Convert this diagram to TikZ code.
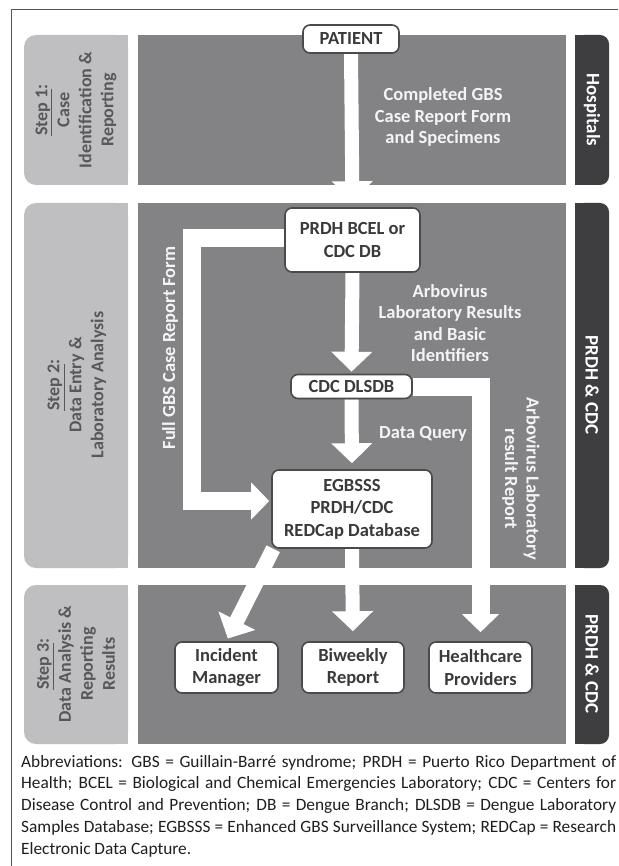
\documentclass[tikz,border=0pt]{standalone}
\usepackage{fontspec}
\setmainfont{Carlito}
\usetikzlibrary{arrows.meta}
\pgfdeclarelayer{bg}
\pgfdeclarelayer{arrowlayer}
\pgfsetlayers{bg,arrowlayer,main}

\definecolor{lightbg}{HTML}{BFBFC2}
\definecolor{midbg}{HTML}{838386}
\definecolor{darkbg}{HTML}{3E3E41}
\definecolor{steptext}{HTML}{58585B}
\definecolor{boxtext}{HTML}{3A3A3A}
\definecolor{boxline}{HTML}{4A4A4A}
\definecolor{softwhite}{HTML}{F4F4F4}
\definecolor{framecol}{HTML}{555555}

\tikzset{
  flowbox/.style={draw=boxline, line width=1.6pt, fill=white, rounded corners=7pt,
    text=boxtext, font=\fontsize{18.5}{22.5}\selectfont\bfseries, align=center, inner sep=0pt},
  fatarrow/.style={draw=white, line width=14pt, -{Triangle[width=40pt,length=20pt]}, shorten >=6pt},
  bentarrow/.style={draw=white, line width=18pt, line join=miter, -{Triangle[width=36pt,length=18pt]}},
  flowlabel/.style={text=softwhite, font=\fontsize{18.5}{21.5}\selectfont\bfseries, align=center, inner sep=0pt},
  steplabel/.style={text=steptext, rotate=90, align=center, font=\fontsize{18}{22}\selectfont\bfseries, inner sep=0pt},
  sidelabel/.style={text=white, rotate=-90, font=\fontsize{19}{22}\selectfont\bfseries, inner sep=0pt},
}

\begin{document}
\begin{tikzpicture}[x=1pt,y=-1pt]
\useasboundingbox (0,0) rectangle (618,866);

\begin{pgfonlayer}{bg}
  \fill[white] (0,0) rectangle (618,866);
  \draw[framecol, line width=0.9pt] (11,866) -- (11,9) -- (618,9);
  \foreach \ya/\yb in {35/185, 203/568, 585/744}{
    \fill[lightbg, rounded corners=12pt] (24,\ya) rectangle (128,\yb);
    \fill[lightbg] (80,\ya) rectangle (128,\yb);
    \fill[midbg] (138,\ya) rectangle (566,\yb);
    \fill[darkbg, rounded corners=9pt] (575,\ya) rectangle (609,\yb);
    \fill[darkbg] (575,\ya) rectangle (592,\yb);
  }
\end{pgfonlayer}

% step labels
\node[steplabel] (s1) at (76,110) {\underline{Step 1}:\\Case\\Identification \&\\Reporting};
\node[steplabel] (s2) at (77,385) {\underline{Step 2}:\\Data Entry \&\\Laboratory Analysis};
\node[steplabel] (s3) at (76,664) {\underline{Step 3}:\\Data Analysis \&\\Reporting\\Results};

% side labels
\node[sidelabel] (h1) at (592,110) {Hospitals};
\node[sidelabel] (h2) at (592,385) {PRDH \& CDC};
\node[sidelabel] (h3) at (592,664) {PRDH \& CDC};

% flow boxes
\node[flowbox, minimum width=96pt, minimum height=28pt] (pat) at (351,39) {PATIENT};
\node[flowbox, minimum width=135pt, minimum height=64pt] (lab) at (352.5,240) {PRDH BCEL or\\CDC DB};
\node[flowbox, minimum width=121pt, minimum height=24pt] (dls) at (351.5,386.5) {CDC DLSDB};
\node[flowbox, minimum width=160pt, minimum height=78pt] (eg) at (352,509) {EGBSSS\\PRDH/CDC\\REDCap Database};
\node[flowbox, minimum width=103pt, minimum height=51pt] (inc) at (226.5,667.5) {Incident\\Manager};
\node[flowbox, minimum width=102pt, minimum height=51pt] (bi) at (353,667.5) {Biweekly\\Report};
\node[flowbox, minimum width=103pt, minimum height=51pt] (hc) at (480.5,667.5) {Healthcare\\Providers};

% flow labels
\node[flowlabel] (l1) at (443,117) {Completed GBS\\Case Report Form\\and Specimens};
\node[flowlabel] (l2) at (450,323) {Arbovirus\\Laboratory Results\\and Basic\\Identifiers};
\node[flowlabel] (l3) at (423,434) {Data Query};
\node[flowlabel, rotate=90] (l4) at (170,348) {Full GBS Case Report Form};
\node[flowlabel, rotate=-90] (l5) at (521,479) {Arbovirus Laboratory\\result Report};

% connectors
\coordinate (fgx) at (192,0);
\coordinate (fgA) at ([yshift=2pt]lab.west);
\coordinate (fgB) at ([yshift=8pt]eg.west);
\coordinate (dgA) at ([xshift=2pt]eg.south west);
\begin{pgfonlayer}{arrowlayer}
  \draw[fatarrow] (pat.south) -- (lab.north);
  \draw[fatarrow, shorten >=2pt] (lab.south) -- (dls.north);
  \draw[fatarrow] (dls.south) -- (eg.north);
  \draw[fatarrow, shorten >=10pt] (eg.south) -- (bi.north);
  \draw[fatarrow, line width=15pt, shorten >=3pt] (dgA) -- (inc.north);
  \draw[bentarrow, shorten >=2pt] (fgA) -- (fgA -| fgx) -- (fgB -| fgx) -- (fgB);
  \draw[bentarrow, shorten >=9pt] (dls.east) -- (dls.east -| hc.north) -- (hc.north);
\end{pgfonlayer}

% caption
\node[anchor=north west, inner sep=0pt, text width=595pt, align=justify,
      font=\fontsize{17.3}{21.7}\selectfont, text=black!88] (cap) at (21,755)
 {Abbreviations: GBS = Guillain-Barré syndrome; PRDH = Puerto Rico Department of\linebreak
  Health; BCEL = Biological and Chemical Emergencies Laboratory; CDC = Centers for\linebreak
  Disease Control and Prevention; DB = Dengue Branch; DLSDB = Dengue Laboratory\linebreak
  Samples Database; EGBSSS = Enhanced GBS Surveillance System; REDCap = Research\linebreak
  Electronic Data Capture.};
\end{tikzpicture}
\end{document}
